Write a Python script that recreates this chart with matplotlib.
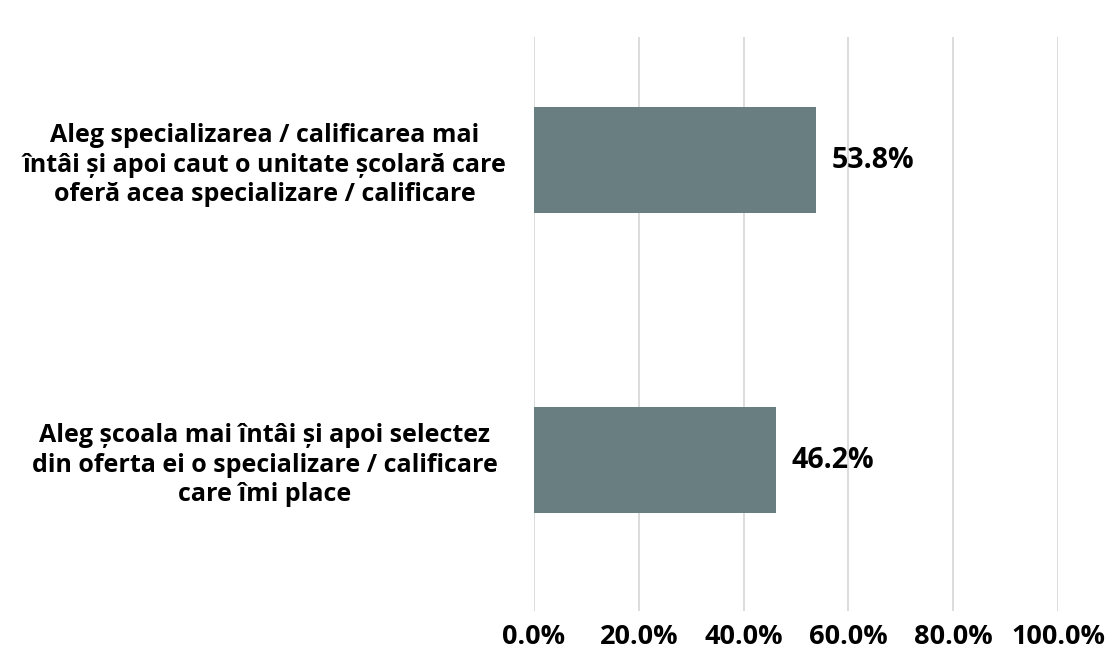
import matplotlib.pyplot as plt
from matplotlib.ticker import FuncFormatter

categories = [
    "Aleg specializarea / calificarea mai\nîntâi și apoi caut o unitate școlară care\noferă acea specializare / calificare",
    "Aleg școala mai întâi și apoi selectez\ndin oferta ei o specializare / calificare\ncare îmi place",
]
values = [53.8, 46.2]
ticks = [0, 20, 40, 60, 80, 100]

plt.rcParams['font.family'] = ['Open Sans', 'DejaVu Sans']
plt.rcParams['font.weight'] = 'bold'

fig = plt.figure(figsize=(11.12, 6.57), dpi=100)
ax = fig.add_axes([534 / 1112, 1 - 611 / 657, 524 / 1112, 574 / 657])

pos = list(range(len(categories)))
ax.barh(pos, values, height=0.353, color="#687e80", zorder=3)
for p, v in zip(pos, values):
    ax.text(v + 3, p, f"{v:.1f}%", va="center", ha="left",
            fontsize=20.5, fontweight="bold", color="black")

ax.set_xlim(0, 100)
ax.set_ylim(1 + 0.503, -0.41)
ax.set_xticks(ticks)
ax.xaxis.set_major_formatter(FuncFormatter(lambda x, _: f"{x:.1f}%"))
ax.grid(axis="x", color="#d9d9d9", linewidth=1.3, zorder=0)
ax.set_yticks(pos)
ax.set_yticklabels(categories, ha="center", multialignment="center",
                   fontsize=18, fontweight="bold", linespacing=1.22)
ax.tick_params(axis="y", length=0, pad=194)
ax.tick_params(axis="x", length=0, pad=9, labelsize=19.5)
for lab in ax.get_xticklabels():
    lab.set_fontweight("bold")
for s in ax.spines.values():
    s.set_visible(False)

fig.savefig("out.png", dpi=100)
